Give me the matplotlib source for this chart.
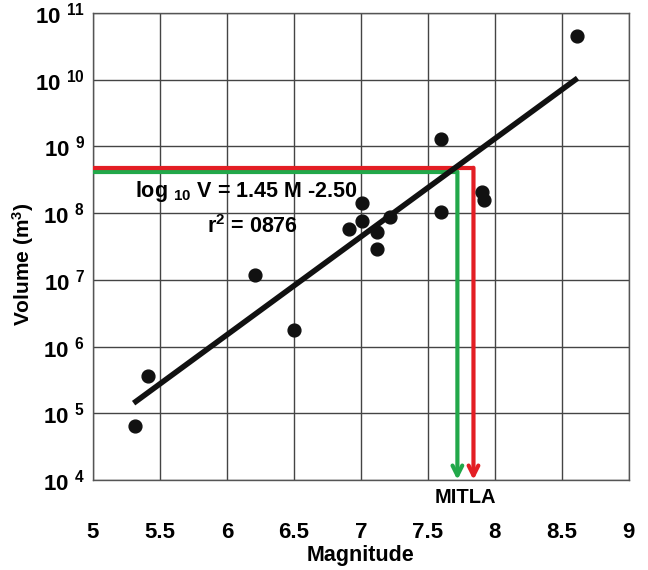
import numpy as np
import matplotlib
matplotlib.use("Agg")
import matplotlib.pyplot as plt
from matplotlib.ticker import FixedLocator, FuncFormatter

plt.rcParams['font.family'] = ['Liberation Sans', 'DejaVu Sans']
plt.rcParams['font.weight'] = 'bold'
plt.rcParams['mathtext.default'] = 'regular'

# data
magnitude = [5.31, 5.41, 6.21, 6.50, 6.91, 7.01, 7.01, 7.12, 7.12, 7.22,
             7.60, 7.60, 7.90, 7.92, 8.61]
volume = [6.5e4, 3.6e5, 1.2e7, 1.8e6, 5.7e7, 1.4e8, 7.6e7, 5.2e7, 2.9e7, 8.7e7,
          1.3e9, 1.05e8, 2.1e8, 1.6e8, 4.6e10]

# regression line end points (log10 V = 1.45 M - 2.50)
fit_m = [5.32, 8.60]
fit_v = [1.5e5, 1.0e10]

# MITLA estimates
red_m, red_v = 7.84, 4.8e8
green_m, green_v = 7.72, 4.2e8

x_ticks = [5, 5.5, 6, 6.5, 7, 7.5, 8, 8.5, 9]
y_exps = [4, 5, 6, 7, 8, 9, 10, 11]

red = '#e31e24'
green = '#22a84a'

fig = plt.figure(figsize=(6.48, 5.70), dpi=100)
ax = fig.add_axes([0.1435, 0.158, 0.827, 0.819])
ax.set_yscale('log')
ax.set_xlim(5, 9)
ax.set_ylim(1e4, 1e11)

ax.xaxis.set_major_locator(FixedLocator(x_ticks))
ax.xaxis.set_major_formatter(FuncFormatter(lambda v, p: f'{v:g}'))
ax.yaxis.set_major_locator(FixedLocator([10.0 ** e for e in y_exps]))
ax.yaxis.set_minor_locator(FixedLocator([]))
ax.yaxis.set_major_formatter(FuncFormatter(
    lambda v, p: '10 $^{%d}$' % round(np.log10(v))))
ax.grid(True, color='#444444', linewidth=1.0)
ax.tick_params(axis='both', length=0, labelsize=16)
ax.tick_params(axis='x', pad=30)
ax.tick_params(axis='y', pad=6)
for s in ax.spines.values():
    s.set_color('#555555')
    s.set_linewidth(1.0)

# green and red construction lines with arrows
ax.plot([5, green_m], [green_v, green_v], color=green, lw=3, solid_capstyle='butt', zorder=3)
ax.annotate('', xy=(green_m, 1e4), xytext=(green_m, green_v),
            arrowprops=dict(arrowstyle='->, head_width=0.35, head_length=0.7',
                            color=green, lw=3, shrinkA=0, shrinkB=0), zorder=3)
ax.plot([5, red_m], [red_v, red_v], color=red, lw=3, solid_capstyle='butt', zorder=3)
ax.annotate('', xy=(red_m, 1e4), xytext=(red_m, red_v),
            arrowprops=dict(arrowstyle='->, head_width=0.35, head_length=0.7',
                            color=red, lw=3, shrinkA=0, shrinkB=0), zorder=3)

ax.plot(fit_m, fit_v, color='#111111', lw=4, zorder=4)
ax.scatter(magnitude, volume, s=85, color='#111111', zorder=5)

ax.text(5.31, 10 ** 8.33, 'log $_{10}$ V = 1.45 M -2.50', fontsize=15.5,
        fontweight='bold', va='center', ha='left')
ax.text(5.85, 10 ** 7.8, 'r$^2$ = 0876', fontsize=15.5,
        fontweight='bold', va='center', ha='left')
ax.text(7.78, 10 ** 3.73, 'MITLA', fontsize=14.5, fontweight='bold',
        ha='center', va='center', clip_on=False)

ax.set_xlabel('Magnitude', fontsize=15.5, fontweight='bold', labelpad=2)
ax.set_ylabel('Volume (m$^3$)', fontsize=15, fontweight='bold')
ax.yaxis.set_label_coords(-0.106, 0.4625)

fig.savefig('out.png', dpi=100)
